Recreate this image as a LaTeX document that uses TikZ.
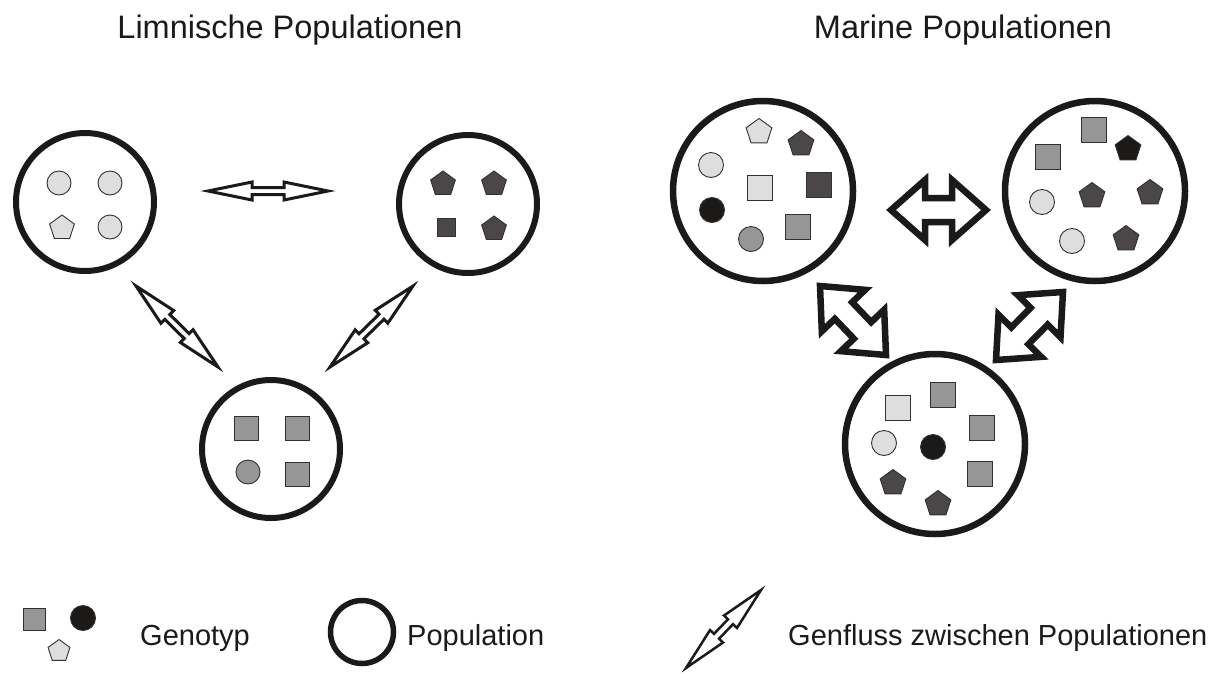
\documentclass[tikz,border=0pt]{standalone}
\usepackage{fontspec}
\setmainfont{Liberation Sans}
\usetikzlibrary{shapes.geometric,calc}

\definecolor{ringblack}{HTML}{1C1919}
\definecolor{genlight}{HTML}{DEDEDE}
\definecolor{genmid}{HTML}{969696}
\definecolor{gendark}{HTML}{4B4748}
\definecolor{genblack}{HTML}{1C1919}

\tikzset{
	pop/.style={circle,draw=ringblack,line width=6pt,inner sep=0pt,minimum size=138pt},
	bigpop/.style={pop,line width=6.5pt,minimum size=180pt},
	gsq/.style={rectangle,draw=ringblack!90,line width=0.9pt,inner sep=0pt,minimum size=#1},
	gsq/.default=24pt,
	gcirc/.style={circle,draw=ringblack!90,line width=0.9pt,inner sep=0pt,minimum size=#1},
	gcirc/.default=24pt,
	gpent/.style={regular polygon,regular polygon sides=5,draw=ringblack!90,line width=0.9pt,inner sep=0pt,minimum size=#1},
	gpent/.default=26pt,
	genflow/.style n args={3}{to path={
		-- ($(\tikztostart)!#1!(\tikztotarget)!#2!90:(\tikztotarget)$)
		-- ($(\tikztostart)!#1!(\tikztotarget)!#3!90:(\tikztotarget)$)
		-- ($(\tikztotarget)!#1!(\tikztostart)!#3!-90:(\tikztostart)$)
		-- ($(\tikztotarget)!#1!(\tikztostart)!#2!-90:(\tikztostart)$)
		-- (\tikztotarget)
		-- ($(\tikztotarget)!#1!(\tikztostart)!#2!90:(\tikztostart)$)
		-- ($(\tikztotarget)!#1!(\tikztostart)!#3!90:(\tikztostart)$)
		-- ($(\tikztostart)!#1!(\tikztotarget)!#3!-90:(\tikztotarget)$)
		-- ($(\tikztostart)!#1!(\tikztotarget)!#2!-90:(\tikztotarget)$)
		-- cycle}},
	smallflow/.style={draw=ringblack,fill=white,line width=3pt,line join=miter,genflow={44pt}{9pt}{3.5pt}},
	bigflow/.style={draw=ringblack,fill=white,line width=6.5pt,line join=miter,genflow={34pt}{30pt}{12pt}},
	title/.style={font=\fontsize{32.5}{38}\selectfont,text=ringblack,anchor=base,inner sep=0pt},
	legend/.style={font=\fontsize{29}{34}\selectfont,text=ringblack,anchor=base west,inner sep=0pt},
}

\begin{document}
\begin{tikzpicture}[x=1pt,y=-1pt]
	\useasboundingbox (0,0) rectangle (1228,675);
	
	% titles
	\node[title] (tl) at (290,38) {Limnische Populationen};
	\node[title] (tm) at (963,38) {Marine Populationen};
	
	% limnic populations
	\node[pop] (l1) at (85,202) {};
	\node[gcirc,fill=genlight] (l1a) at (59,183) {};
	\node[gcirc,fill=genlight] (l1b) at (110,183) {};
	\node[gpent,fill=genlight] (l1c) at (62,228) {};
	\node[gcirc,fill=genlight] (l1d) at (110,227) {};
	
	\node[pop] (l2) at (468,204) {};
	\node[gpent,fill=gendark] (l2a) at (443,184) {};
	\node[gpent,fill=gendark] (l2b) at (494,184) {};
	\node[gsq=18pt,fill=gendark] (l2c) at (446,227) {};
	\node[gpent,fill=gendark] (l2d) at (494,229) {};
	
	\node[pop] (l3) at (271,449) {};
	\node[gsq,fill=genmid] (l3a) at (246,428) {};
	\node[gsq,fill=genmid] (l3b) at (297,428) {};
	\node[gcirc,fill=genmid] (l3c) at (248,472) {};
	\node[gsq,fill=genmid] (l3d) at (297,474) {};
	
	% limnic gene flow
	\coordinate (f1a) at (208,191);
	\coordinate (f1b) at (328,191);
	\coordinate (f2a) at (136,286);
	\coordinate (f2b) at (218,367);
	\coordinate (f3a) at (413,286);
	\coordinate (f3b) at (330,367);
	\draw[smallflow] (f1a) to (f1b);
	\draw[smallflow] (f2a) to (f2b);
	\draw[smallflow] (f3a) to (f3b);
	
	% marine populations
	\node[bigpop] (m1) at (763,191) {};
	\node[gpent=27pt,fill=genlight] (m1a) at (759,132) {};
	\node[gpent=27pt,fill=gendark] (m1b) at (801,144) {};
	\node[gcirc=25pt,fill=genlight] (m1c) at (711,165) {};
	\node[gsq=25pt,fill=genlight] (m1d) at (760,188) {};
	\node[gsq=25pt,fill=gendark] (m1e) at (819,185) {};
	\node[gcirc=25pt,fill=genblack] (m1f) at (712,210) {};
	\node[gcirc=25pt,fill=genmid] (m1g) at (751,239) {};
	\node[gsq=25pt,fill=genmid] (m1h) at (798,227) {};
	
	\node[bigpop] (m2) at (1095,191) {};
	\node[gsq=25pt,fill=genmid] (m2a) at (1094,130) {};
	\node[gsq=25pt,fill=genmid] (m2b) at (1048,157) {};
	\node[gpent=27pt,fill=genblack] (m2c) at (1128,149) {};
	\node[gcirc=25pt,fill=genlight] (m2d) at (1042,202) {};
	\node[gpent=27pt,fill=gendark] (m2e) at (1092,196) {};
	\node[gpent=27pt,fill=gendark] (m2f) at (1150,193) {};
	\node[gcirc=25pt,fill=genlight] (m2g) at (1072,241) {};
	\node[gpent=27pt,fill=gendark] (m2h) at (1126,239) {};
	
	\node[bigpop] (m3) at (935,444) {};
	\node[gsq=25pt,fill=genlight] (m3a) at (898,408) {};
	\node[gsq=25pt,fill=genmid] (m3b) at (943,395) {};
	\node[gsq=25pt,fill=genmid] (m3c) at (982,428) {};
	\node[gcirc=25pt,fill=genlight] (m3d) at (884,443) {};
	\node[gcirc=25pt,fill=genblack] (m3e) at (933,447) {};
	\node[gsq=25pt,fill=genmid] (m3f) at (980,474) {};
	\node[gpent=27pt,fill=gendark] (m3g) at (893,483) {};
	\node[gpent=27pt,fill=gendark] (m3h) at (938,504) {};
	
	% marine gene flow
	\coordinate (g1a) at (891,210);
	\coordinate (g1b) at (986,210);
	\coordinate (g2a) at (820,286);
	\coordinate (g2b) at (886,355);
	\coordinate (g3a) at (1063,292);
	\coordinate (g3b) at (996,360);
	\draw[bigflow] (g1a) to (g1b);
	\draw[bigflow] (g2a) to (g2b);
	\draw[bigflow] (g3a) to (g3b);
	
	% legend
	\node[gsq=22pt,fill=genmid] (k1) at (34,619) {};
	\node[gcirc=25pt,fill=genblack] (k2) at (83,618) {};
	\node[gpent=23pt,fill=genlight] (k3) at (59,651) {};
	\node[legend] (k4) at (140,645) {Genotyp};
	\node[pop,minimum size=63pt,line width=5.5pt] (k5) at (362,632) {};
	\node[legend] (k6) at (407,645) {Population};
	\coordinate (k7) at (686,668);
	\coordinate (k8) at (761,590);
	\draw[smallflow,line width=2.5pt] (k7) to (k8);
	\node[legend] (k9) at (788,645) {Genfluss zwischen Populationen};
	
\end{tikzpicture}
\end{document}
